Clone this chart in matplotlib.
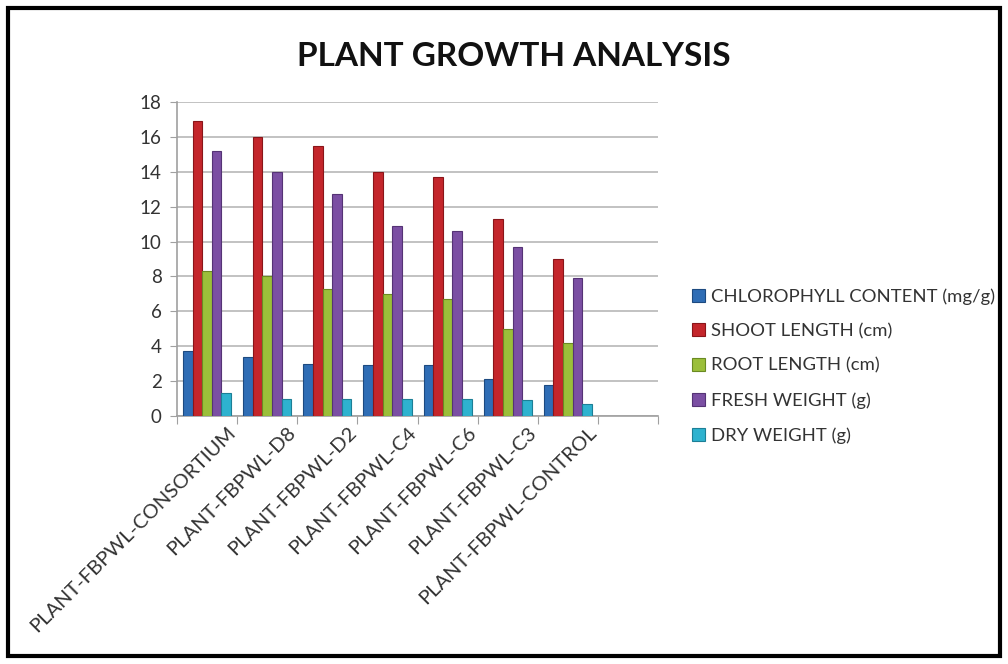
import numpy as np
import matplotlib
matplotlib.use("Agg")
import matplotlib.pyplot as plt
from matplotlib.patches import Rectangle
from matplotlib.transforms import ScaledTranslation

plt.rcParams['font.family'] = ['Lato', 'DejaVu Sans']

categories = ["PLANT-FBPWL-CONSORTIUM", "PLANT-FBPWL-D8", "PLANT-FBPWL-D2",
              "PLANT-FBPWL-C4", "PLANT-FBPWL-C6", "PLANT-FBPWL-C3",
              "PLANT-FBPWL-CONTROL"]
chlorophyll = [3.7, 3.4, 3.0, 2.9, 2.9, 2.1, 1.8]
shoot = [16.9, 16.0, 15.5, 14.0, 13.7, 11.3, 9.0]
root = [8.3, 8.0, 7.3, 7.0, 6.7, 5.0, 4.2]
fresh = [15.2, 14.0, 12.7, 10.9, 10.6, 9.7, 7.9]
dry = [1.3, 1.0, 1.0, 0.95, 0.95, 0.9, 0.7]

series = [("CHLOROPHYLL CONTENT (mg/g)", chlorophyll, "#2f6db5", "#1d4a80"),
          ("SHOOT LENGTH (cm)", shoot, "#c4262b", "#8a1519"),
          ("ROOT LENGTH (cm)", root, "#9bbf3a", "#6a8a22"),
          ("FRESH WEIGHT (g)", fresh, "#7b4fa3", "#553375"),
          ("DRY WEIGHT (g)", dry, "#2eb2cf", "#1c7f96")]

n_slots = 8  # one empty slot at the right end
fig = plt.figure(figsize=(10.08, 6.64), dpi=100)
ax = fig.add_axes([0.1756, 0.3735, 0.4772, 0.4729])

w = 0.16
x = np.arange(len(categories))
for i, (name, vals, col, edge) in enumerate(series):
    ax.bar(x - 0.4 + w * (i + 0.5), vals, w, color=col, edgecolor=edge,
           linewidth=0.8, label=name, zorder=3)

ax.set_xlim(-0.5, n_slots - 0.5)
ax.set_ylim(0, 18)
ax.set_yticks(range(0, 19, 2))
ax.yaxis.grid(True, color="#b8b8b8", lw=1.2, zorder=0)
for s in ["top", "right"]:
    ax.spines[s].set_visible(False)
for s in ["left", "bottom"]:
    ax.spines[s].set_color("#a0a0a0")
    ax.spines[s].set_linewidth(1.2)
ax.tick_params(axis="y", length=5, color="#a0a0a0", labelsize=13.5, labelcolor="#333333", pad=6)

# tick marks at slot boundaries, labels at slot centres
ax.set_xticks(np.arange(n_slots + 1) - 0.5)
ax.set_xticklabels([])
ax.tick_params(axis="x", length=6, color="#a0a0a0", direction="out")
off = ScaledTranslation(26 / 100, -8 / 100, fig.dpi_scale_trans)
for xi, lab in zip(x, categories):
    ax.text(xi, -0.35, lab, rotation=45, ha="right", va="center",
            rotation_mode="anchor", fontsize=14.5, color="#333333",
            transform=ax.transData + off, clip_on=False)

fig.text(0.51, 0.915, "PLANT GROWTH ANALYSIS", ha="center", va="center",
         fontsize=24, fontweight="bold", color="#111111")

leg = fig.legend(loc="center left", bbox_to_anchor=(0.67, 0.449), frameon=False,
                 fontsize=13.3, handlelength=0.7, handleheight=0.7,
                 handletextpad=0.35, labelspacing=1.0)
for t in leg.get_texts():
    t.set_color("#333333")

fig.patches.append(Rectangle((0.008, 0.012), 0.984, 0.976, transform=fig.transFigure,
                             fill=False, edgecolor="black", linewidth=3))

fig.savefig("out.png", dpi=100)
